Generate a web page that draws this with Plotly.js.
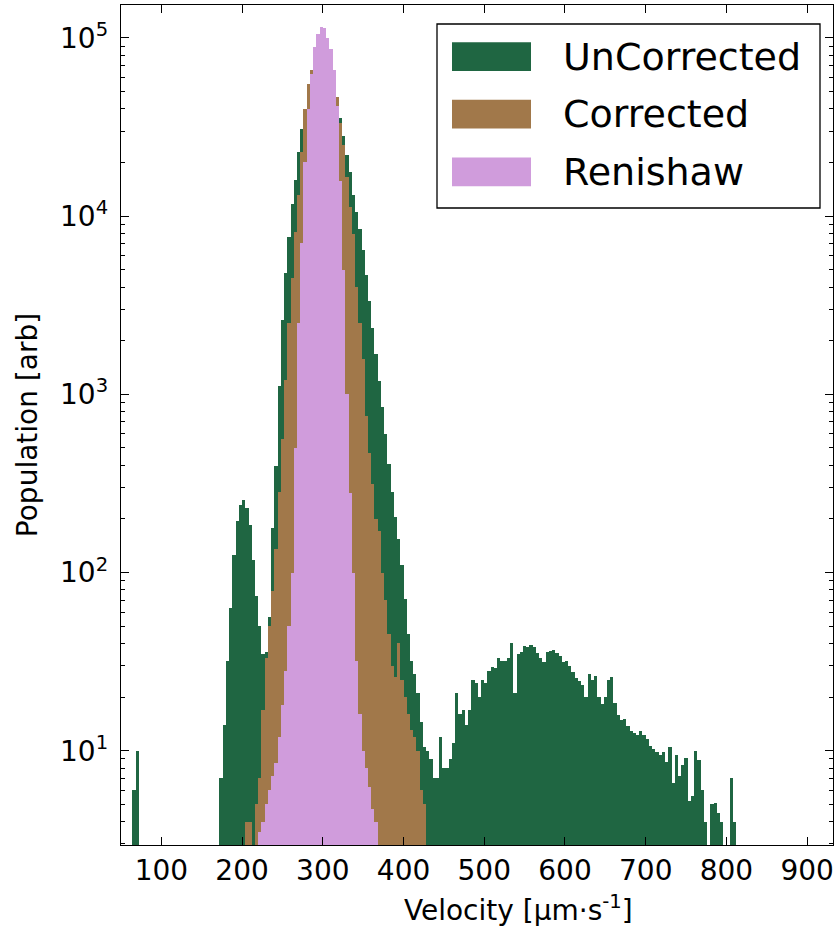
<!DOCTYPE html>
<html>
<head>
<meta charset="utf-8">
<script src="https://cdn.plot.ly/plotly-3.0.1.min.js"></script>
<style>html,body{margin:0;padding:0;background:#fff;}#chart{width:839px;height:927px;}</style>
</head>
<body>
<div id="chart"></div>
<script>
// ---- data (histogram counts, bin width 4 µm/s, bin centres) ----
const binWidth = 4;

const seriesNames = ["UnCorrected", "Corrected", "Renishaw"];
const seriesColors = ["#1f6642", "#a1784a", "#d09cdc"];

// UnCorrected: first bin centre 66
const uncorrectedStart = 66;
const uncorrectedCounts = [
  6, 10,                                                        // 66-70
  null, null, null, null, null, null, null, null, null, null,   // 74-110
  null, null, null, null, null, null, null, null, null, null,   // 114-150
  null, null, null, null, null,                                 // 154-170
  7, 14, 32, 63, 126, 195, 240, 257, 229, 186,                  // 174-210
  117, 74, 50, 35, 36, 56, 178, 398, 1120, 2630,                // 214-250
  4790, 7590, 11750, 15850, 22900, 30900, 39800, 50100, 58900, 65300, // 254-290
  69200, 72400, 71600, 68400, 63100, 54300, 44700, 35500, 28200, 21900, // 294-330
  17800, 13200, 10600, 8510, 6460, 4680, 3350, 2370, 1680, 1190, // 334-370
  851, 603, 407, 282, 204, 155, 110, 71, 45, 32,                 // 374-410
  27, 21, 14.5, 10.5, 10, 9, 7, 7, 12, 8,                        // 414-450
  8, 9, 11, 21, 16, 17, 14, 17, 25, 24,                          // 454-490
  20, 25, 24, 28, 29.5, 29, 33, 32, 32, 33,                      // 494-530
  40, 21, 35, 36, 38.5, 38, 39, 38, 35.5, 33,                    // 534-570
  31.6, 36, 36.5, 37, 35.5, 34, 31.6, 32, 30, 27.5,              // 574-610
  25.7, 24.5, 23.4, 20, 27, 25, 26.3, 20, 18.2, 20,              // 614-650
  25, 26, 18.6, 15.8, 14.8, 15, 13.8, 12.9, 12.6, 12.3,          // 654-690
  12.9, 12.3, 11.7, 10.7, 10.2, 9.8, 9.5, 9.8, 8.7, 10.5,        // 694-730
  6.6, 9.5, 7.2, 8.3, 9.1, 5.2, 5.6, 10, 8.9, 6,                 // 734-770
  4, null, 5, 5.1, 4.5, 4, null, null, 7, 4                      // 774-810
];

// Corrected: first bin centre 206
const correctedStart = 206;
const correctedCounts = [
  4, 4, null, 5, 7, 17, 33, 50, 79, 135,                         // 206-242
  282, 560, 1200, 2500, 4470, 8130, 13200, 22900, 40000, 55000,  // 246-282
  66000, 75000, 81000, 85000, 84000, 79000, 69000, 57500, 46800, 33100, // 286-322
  25100, 16600, 11200, 7940, 3980, 2510, 1580, 760, 470, 316,    // 326-362
  200, 170, 100, 70, 45, 30, 26, 40, 25, 20,                     // 366-402
  16, 13, 12, 10, 6, 5                                           // 406-426
];

// Renishaw: first bin centre 222
const renishawStart = 222;
const renishawCounts = [
  3.5, 4, 5, 6, 7.2, 8.5, 12, 18, 28, 50,                        // 222-258
  100, 500, 2510, 7080, 20000, 39800, 63100, 89000, 105000, 115000, // 262-298
  113500, 100000, 87000, 66000, 41700, 15800, 5000, 1000, 280, 100, // 302-338
  32, 16, 10, 8, 6.3, 4.7, 4                                     // 342-366
];

const xTickVals = [100, 200, 300, 400, 500, 600, 700, 800, 900];
const yTickVals = [10, 100, 1000, 10000, 100000];
const yTickText = ["10<sup>1</sup>", "10<sup>2</sup>", "10<sup>3</sup>", "10<sup>4</sup>", "10<sup>5</sup>"];

// ---- build ----
function centres(start, n) { const a = []; for (let i = 0; i < n; i++) a.push(start + i * binWidth); return a; }
const starts = [uncorrectedStart, correctedStart, renishawStart];
const counts = [uncorrectedCounts, correctedCounts, renishawCounts];

const traces = counts.map((c, k) => ({
  type: "bar",
  name: seriesNames[k],
  x: centres(starts[k], c.length),
  y: c,
  width: binWidth,
  marker: { color: seriesColors[k], line: { width: 0 } },
  showlegend: false,
  hoverinfo: "skip"
}));

const minorVals = [];
for (let e = 0; e <= 5; e++) for (let m = 2; m <= 9; m++) minorVals.push(m * Math.pow(10, e));

const W = 839, H = 927;
const M = { l: 121, r: 6, t: 5, b: 82 };
const plotW = W - M.l - M.r, plotH = H - M.t - M.b;
const px = v => (v - M.l) / plotW;          // pixel -> paper x
const py = v => (H - M.b - v) / plotH;      // pixel -> paper y

const font = "DejaVu Sans";
const shapes = [{
  type: "rect", xref: "paper", yref: "paper",
  x0: px(437), x1: px(820), y0: py(208), y1: py(24),
  line: { color: "black", width: 1.3 }, fillcolor: "white", layer: "above"
}];
const annotations = [];
const rowCentres = [56.7, 114.2, 171.8];
seriesNames.forEach((n, k) => {
  shapes.push({
    type: "rect", xref: "paper", yref: "paper",
    x0: px(452), x1: px(531), y0: py(rowCentres[k] + 14.4), y1: py(rowCentres[k] - 14.4),
    line: { width: 0 }, fillcolor: seriesColors[k], layer: "above"
  });
  annotations.push({
    xref: "paper", yref: "paper", x: px(561), y: py(rowCentres[k]),
    xanchor: "left", yanchor: "middle", showarrow: false, text: n,
    font: { family: font, size: 38, color: "black" }
  });
});
annotations.push({
  xref: "paper", yref: "paper", x: px(518), y: py(908),
  xanchor: "center", yanchor: "middle", showarrow: false,
  text: "Velocity [µm·s<sup>-1</sup>]",
  font: { family: font, size: 28, color: "black" }
});

const axisCommon = {
  ticks: "inside", ticklen: 8, tickwidth: 1, tickcolor: "black",
  showline: true, linecolor: "black", linewidth: 1.3, mirror: "allticks",
  showgrid: false, zeroline: false,
  tickfont: { family: font, size: 28, color: "black" }
};

const layout = {
  width: W, height: H, margin: M,
  paper_bgcolor: "white", plot_bgcolor: "white",
  barmode: "overlay", bargap: 0,
  font: { family: font, color: "black" },
  xaxis: Object.assign({}, axisCommon, {
    range: [50, 932], tickmode: "array", tickvals: xTickVals,
    ticklabelstandoff: 0
  }),
  yaxis: Object.assign({}, axisCommon, {
    type: "log", range: [Math.log10(2.96), Math.log10(1.53e5)],
    tickmode: "array", tickvals: yTickVals, ticktext: yTickText,
    ticklabelstandoff: 6,
    minor: { tickmode: "array", tickvals: minorVals, ticks: "inside", ticklen: 4, tickwidth: 1, tickcolor: "black", showgrid: false },
    title: { text: "Population [arb]", standoff: 14, font: { family: font, size: 28, color: "black" } }
  }),
  shapes: shapes,
  annotations: annotations
};

Plotly.newPlot("chart", traces, layout, { staticPlot: true, displayModeBar: false });
</script>
</body>
</html>
